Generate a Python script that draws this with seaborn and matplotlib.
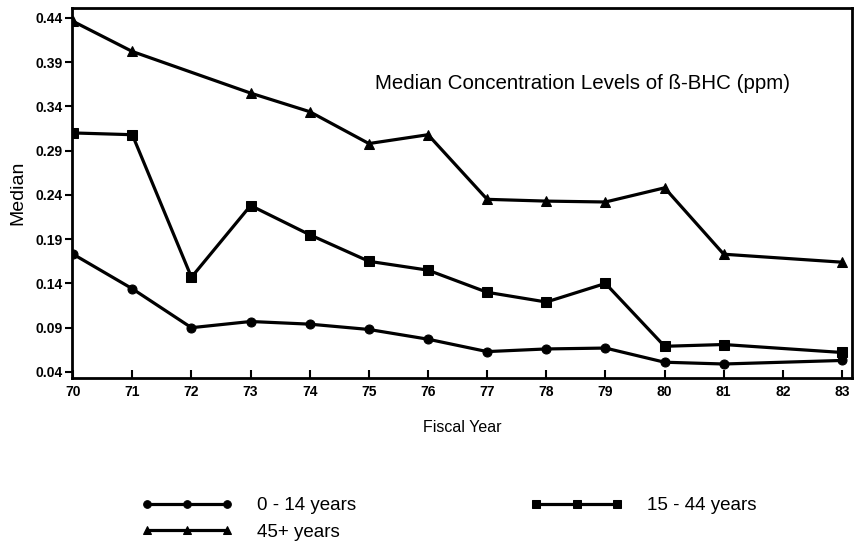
import numpy as np
import pandas as pd
import matplotlib
matplotlib.use("Agg")
import matplotlib.pyplot as plt
import seaborn as sns

# Fiscal years and median concentration levels (ppm)
years = [70, 71, 72, 73, 74, 75, 76, 77, 78, 79, 80, 81, 82, 83]
age_0_14 = [0.173, 0.134, 0.090, 0.097, 0.094, 0.088, 0.077, 0.063, 0.066, 0.067, 0.051, 0.049, None, 0.053]
age_15_44 = [0.310, 0.308, 0.147, 0.228, 0.195, 0.165, 0.155, 0.130, 0.119, 0.140, 0.069, 0.071, None, 0.062]
age_45_plus = [0.436, 0.402, None, 0.355, 0.334, 0.298, 0.308, 0.235, 0.233, 0.232, 0.248, 0.173, None, 0.164]

labels = ["0 - 14 years", "15 - 44 years", "45+ years"]
y_ticks = [0.04, 0.09, 0.14, 0.19, 0.24, 0.29, 0.34, 0.39, 0.44]

rows = []
for lab, vals in zip(labels, [age_0_14, age_15_44, age_45_plus]):
    for yr, v in zip(years, vals):
        if v is not None:
            rows.append({"year": yr, "median": v, "group": lab})
df = pd.DataFrame(rows)

sns.set_theme(style="white")
plt.rcParams["font.family"] = ["Liberation Sans", "DejaVu Sans"]
plt.rcParams["text.color"] = "black"
plt.rcParams["axes.labelcolor"] = "black"

fig = plt.figure(figsize=(8.62, 5.41), dpi=100)
ax = fig.add_axes([0.0835, 0.301, 0.905, 0.684])

sns.lineplot(data=df, x="year", y="median", hue="group", style="group",
             markers={"0 - 14 years": "o", "15 - 44 years": "s", "45+ years": "^"},
             dashes=False, palette=["black"] * 3, linewidth=2.3, markersize=6.5,
             markeredgecolor="black", ax=ax, legend=True)

ax.set_xlim(69.98, 83.17)
ax.set_ylim(0.033, 0.451)
ax.set_xticks(years)
ax.set_xticklabels([str(y) for y in years], fontsize=10, fontweight="bold")
ax.set_yticks(y_ticks)
ax.set_yticklabels([f"{t:.2f}" for t in y_ticks], fontsize=10, fontweight="bold")
ax.tick_params(axis="x", bottom=True, direction="in", length=6, width=1.5, color="black", pad=5)
ax.tick_params(axis="y", left=True, direction="out", length=5, width=1.5, color="black", pad=2)
ax.tick_params(axis="both", labelcolor="black")
for s in ax.spines.values():
    s.set_color("black")
    s.set_linewidth(2)

ax.set_xlabel("Fiscal Year", fontsize=11.5, labelpad=15, color="black")
ax.set_ylabel("Median", fontsize=14, labelpad=6, color="black")
ax.text(0.388, 0.795, "Median Concentration Levels of ß-BHC (ppm)", transform=ax.transAxes,
        fontsize=14.8, color="black", ha="left", va="center")

handles, hl = ax.get_legend_handles_labels()
hmap = dict(zip(hl, handles))
for h in hmap.values():
    h.set_markersize(5.5)
order = ["0 - 14 years", "45+ years", "15 - 44 years"]
leg = ax.legend([hmap[o] for o in order], order, ncol=2, loc="upper left",
                bbox_to_anchor=(0.067, -0.276), frameon=False, numpoints=3,
                handlelength=4.9, handletextpad=1.3, columnspacing=9.3, fontsize=13.5,
                labelspacing=0.5)
for t in leg.get_texts():
    t.set_color("black")

fig.savefig("out.png", dpi=100)
